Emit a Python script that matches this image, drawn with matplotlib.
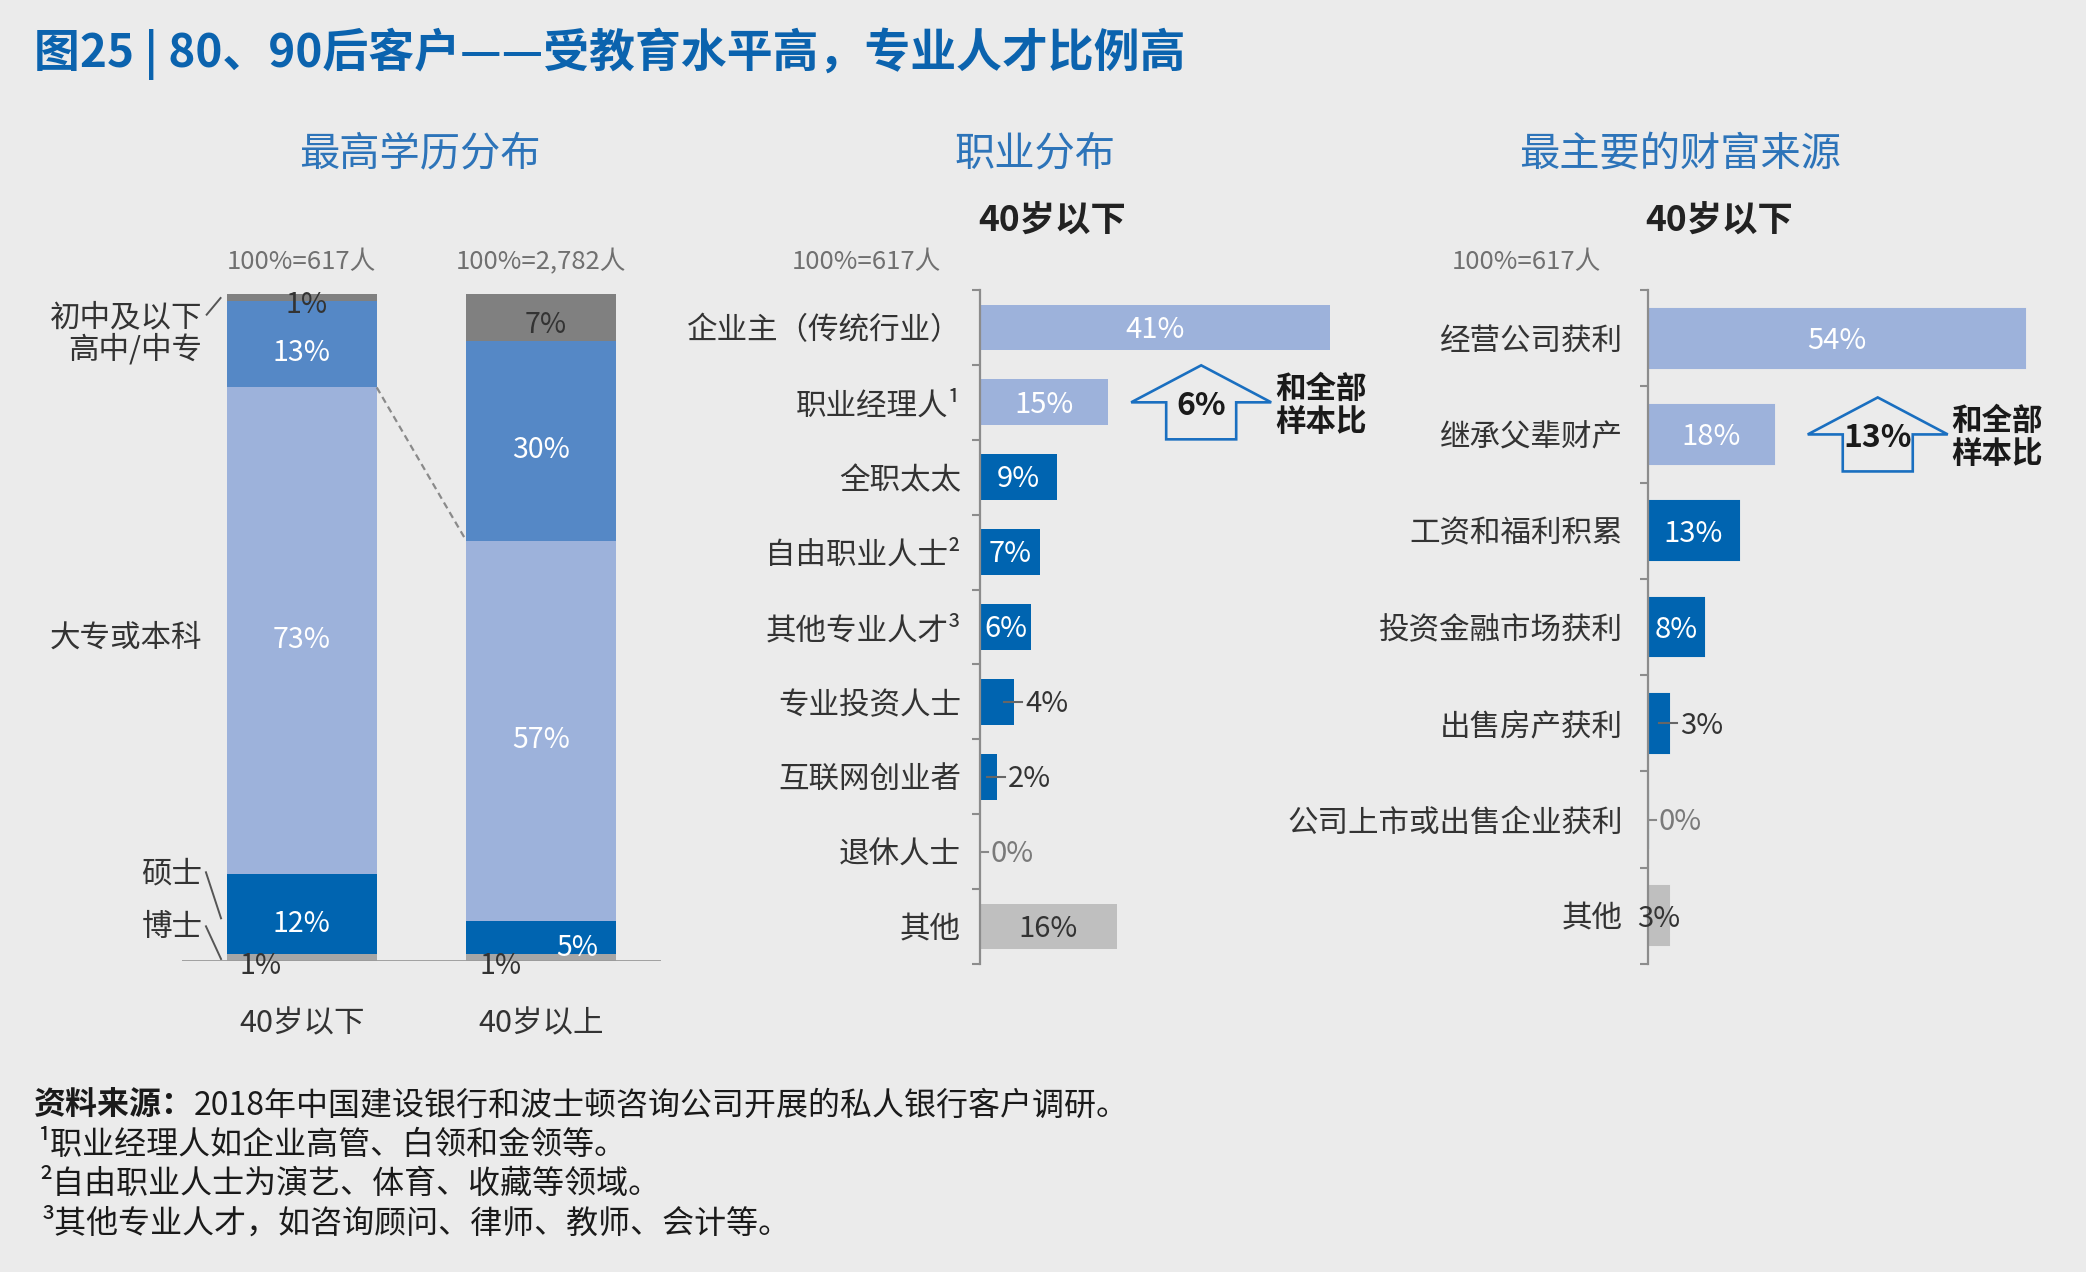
import matplotlib
matplotlib.use('Agg')
import matplotlib.pyplot as plt
import numpy as np
from matplotlib.patches import Polygon
from matplotlib.transforms import IdentityTransform

plt.rcParams['font.family'] = ['Noto Sans CJK SC', 'DejaVu Sans']

W, H = 2086, 1272
BG = '#ebebeb'
DARK = '#0064b0'
MID = '#5588c6'
LIGHT = '#9db2db'
GREY_D = '#808080'
GREY_L = '#bfbfbf'
TXT = '#333333'
AXIS = '#8c8c8c'

# 最高学历分布
edu_groups = ['40岁以下', '40岁以上']
edu_totals = ['100%=617人', '100%=2,782人']
edu_levels = ['博士', '硕士', '大专或本科', '高中/中专', '初中及以下']
edu_under40 = [1, 12, 73, 13, 1]
edu_over40 = [1, 5, 57, 30, 7]
edu_colors = ['#a6a6a6', DARK, LIGHT, MID, GREY_D]

# 职业分布
job_labels = ['企业主（传统行业）', '职业经理人¹', '全职太太', '自由职业人士²',
              '其他专业人才³', '专业投资人士', '互联网创业者', '退休人士', '其他']
job_values = [41, 15, 9, 7, 6, 4, 2, 0, 16]
job_colors = [LIGHT, LIGHT, DARK, DARK, DARK, DARK, DARK, DARK, GREY_L]
job_change = '6%'

# 最主要的财富来源
wealth_labels = ['经营公司获利', '继承父辈财产', '工资和福利积累', '投资金融市场获利',
                 '出售房产获利', '公司上市或出售企业获利', '其他']
wealth_values = [54, 18, 13, 8, 3, 0, 3]
wealth_colors = [LIGHT, LIGHT, DARK, DARK, DARK, DARK, GREY_L]
wealth_change = '13%'

fig = plt.figure(figsize=(W / 100, H / 100), dpi=100, facecolor=BG)


def fx(x):
    return x / W


def fy(y):
    return 1 - y / H


def axes_px(l, t, r, b):
    ax = fig.add_axes([fx(l), fy(b), (r - l) / W, (b - t) / H])
    ax.set_facecolor('none')
    return ax


# ---- 标题 ----
fig.text(fx(34), fy(54), '图25 | 80、90后客户——受教育水平高，专业人才比例高',
         fontsize=33, fontweight='bold', color='#0b63ae', va='center', ha='left')
for x, s in [(420, '最高学历分布'), (1035, '职业分布'), (1680, '最主要的财富来源')]:
    fig.text(fx(x), fy(154), s, fontsize=29, color='#2d74b9', ha='center', va='center')
for x in [1052, 1719]:
    fig.text(fx(x), fy(221), '40岁以下', fontsize=25.5, fontweight='bold', color='#222222',
             ha='center', va='center')
for x in [866, 1526]:
    fig.text(fx(x), fy(262), '100%=617人', fontsize=18.5, color='#707070', ha='center', va='center')

# ---- 图1：堆积柱 ----
ax1 = axes_px(182, 294, 661, 961)
ax1.set_xlim(-0.5, 1.5)
ax1.set_ylim(0, 100)
bw = 0.626
for i, vals in enumerate([edu_under40, edu_over40]):
    bottoms = np.cumsum([0] + vals[:-1])
    ax1.bar(i, vals, width=bw, bottom=bottoms, color=edu_colors, linewidth=0)
    for j, (v, b) in enumerate(zip(vals, bottoms)):
        if j == 0:
            ax1.text(i - 0.17, -0.8, f'{v}%', ha='center', va='center', color=TXT, fontsize=20.5)
        elif j == len(vals) - 1:
            ax1.text(i + 0.02, b + v / 2 - 1.2, f'{v}%', ha='center', va='center', color=TXT,
                     fontsize=20.5)
        elif v < 8:
            ax1.text(i + 0.15, b + v / 2 - 1.6, f'{v}%', ha='center', va='center', color='white',
                     fontsize=20.5)
        else:
            ax1.text(i, b + v / 2 - 1.4, f'{v}%', ha='center', va='center', color='white',
                     fontsize=20.5)
    ax1.text(i, 104.8, edu_totals[i], ha='center', va='center', color='#707070', fontsize=18.5,
             clip_on=False)
    ax1.text(i, -9.4, edu_groups[i], ha='center', va='center', color=TXT, fontsize=22,
             clip_on=False)

# 分类标签
lab_y = {'初中及以下': 96.4, '高中/中专': 91.6, '大专或本科': 48.4, '硕士': 13.1, '博士': 5.0}
for name in edu_levels:
    ax1.text(-0.415, lab_y[name], name, ha='right', va='center', color=TXT, fontsize=22,
             clip_on=False)
for xs, ys in [([-0.397, -0.339], [96.9, 99.4]),
               ([-0.40, -0.337], [13.3, 6.4]),
               ([-0.40, -0.337], [5.2, 0.3])]:
    ax1.plot(xs, ys, color='#555555', lw=1.4, clip_on=False)
ax1.plot([bw / 2, 1 - bw / 2], [sum(edu_under40[:3]), sum(edu_over40[:3])],
         color='#8a8a8a', lw=1.6, ls=(0, (3, 2)))
ax1.axhline(0, color='#9a9a9a', lw=2)
for s in ax1.spines.values():
    s.set_visible(False)
ax1.set_xticks([])
ax1.set_yticks([])


# ---- 横向条形图 ----
def hbar_panel(ax, labels, values, colors, xmax, pad_px, edge):
    n = len(labels)
    ax.set_xlim(0, xmax)
    ax.set_ylim(n - 0.5, -0.5)
    y = np.arange(n)
    ax.barh(y, values, height=0.61, color=colors, edgecolor=colors if edge else 'none',
            linewidth=1.5 if edge else 0)
    for s in ['top', 'right', 'bottom']:
        ax.spines[s].set_visible(False)
    ax.spines['left'].set_color(AXIS)
    ax.spines['left'].set_linewidth(1.6)
    ax.set_xticks([])
    ax.set_yticks(y)
    ax.set_yticklabels(labels, fontsize=22, color=TXT)
    ax.tick_params(axis='y', which='major', length=0, pad=pad_px * 0.72)
    ax.set_yticks(np.arange(-0.5, n), minor=True)
    ax.tick_params(axis='y', which='minor', length=6, width=1.5, color=AXIS)
    ppu = ax.bbox.width / xmax
    for k, v in enumerate(values):
        yk = k + 0.03
        if k == n - 1:
            ax.text(v / 2, yk, f'{v}%', ha='center', va='center', color=TXT, fontsize=21)
        elif v >= 6:
            ax.text(v / 2, yk, f'{v}%', ha='center', va='center', color='white', fontsize=21)
        elif v > 0:
            ax.plot([v - 10 / ppu, v + 8 / ppu], [k, k], color='#666666', lw=1.5)
            ax.text(v + 11 / ppu, yk, f'{v}%', ha='left', va='center', color=TXT, fontsize=21)
        else:
            ax.plot([0, 8 / ppu], [k, k], color='#888888', lw=1.5)
            ax.text(10 / ppu, yk, f'{v}%', ha='left', va='center', color='#7a7a7a', fontsize=21)


def up_arrow(ax, x, y, text):
    cx, cy = ax.transData.transform((x, y))
    offs = np.array([(0, 37), (70, 0), (35, 0), (35, -37), (-35, -37), (-35, 0), (-70, 0)])
    pts = offs + [cx, cy]
    fig.add_artist(Polygon(pts, closed=True, fill=False, edgecolor='#1a6fc0', lw=1.9,
                           joinstyle='miter', transform=IdentityTransform()))
    ax.annotate(text, (x, y), xytext=(0, -4), textcoords='offset pixels', ha='center',
                va='center', fontsize=23, fontweight='bold', color='#1a1a1a',
                annotation_clip=False)
    ax.annotate('和全部\n样本比', (x, y), xytext=(74, -3), textcoords='offset pixels',
                ha='left', va='center', fontsize=22, fontweight='bold', color='#1a1a1a',
                linespacing=1.05, annotation_clip=False)


ax2 = axes_px(980, 290, 1407, 964)
hbar_panel(ax2, job_labels, job_values, job_colors, 50, 19, False)
up_arrow(ax2, 25.9, 1.0, job_change)

ax3 = axes_px(1648, 290, 2067, 964)
hbar_panel(ax3, wealth_labels, wealth_values, wealth_colors, 60, 25, True)
up_arrow(ax3, 32.9, 1.0, wealth_change)

# ---- 脚注 ----
r = fig.canvas.get_renderer()
t0 = fig.text(fx(34), fy(1106), '资料来源：', fontsize=23, fontweight='bold', color='#1a1a1a',
              ha='left', va='center')
bb = t0.get_window_extent(renderer=r)
fig.text(bb.x1 / W, fy(1106), '2018年中国建设银行和波士顿咨询公司开展的私人银行客户调研。',
         fontsize=23, color='#1a1a1a', ha='left', va='center')
notes = ['¹职业经理人如企业高管、白领和金领等。',
         '²自由职业人士为演艺、体育、收藏等领域。',
         '³其他专业人才，如咨询顾问、律师、教师、会计等。']
for k, (s, yy) in enumerate(zip(notes, [1145, 1184, 1224])):
    fig.text(fx(38 + 2 * k), fy(yy), s, fontsize=23, color='#1a1a1a', ha='left', va='center')

fig.savefig('out.png', dpi=100, facecolor=BG)
